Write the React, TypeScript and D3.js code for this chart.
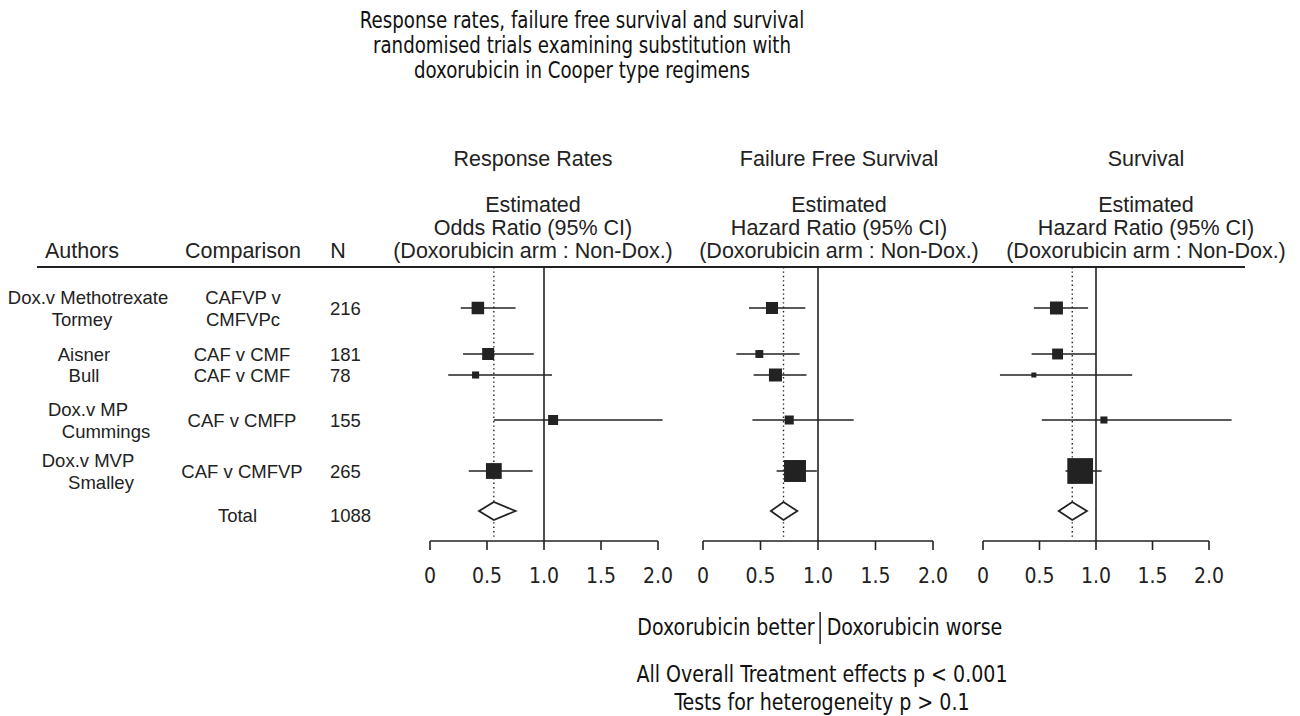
import * as d3 from "d3";
import React from "react";

// ---- data ----
const groups = ["Dox.v Methotrexate", "", "", "Dox.v MP", "Dox.v MVP"];
const authors = ["Tormey", "Aisner", "Bull", "Cummings", "Smalley"];
const comparisons = [["CAFVP v", "CMFVPc"], ["CAF v CMF"], ["CAF v CMF"], ["CAF v CMFP"], ["CAF v CMFVP"]];
const patients = [216, 181, 78, 155, 265];
const totalPatients = 1088;

const panelTitles = ["Response Rates", "Failure Free Survival", "Survival"];
const ratioLabels = ["Odds Ratio (95% CI)", "Hazard Ratio (95% CI)", "Hazard Ratio (95% CI)"];

// response rates: odds ratios
const responseEst = [0.42, 0.51, 0.40, 1.08, 0.56];
const responseLow = [0.27, 0.29, 0.16, 0.56, 0.34];
const responseHigh = [0.75, 0.91, 1.07, 2.04, 0.9];
const responseWeight = [25, 23, 8, 16, 40];

// failure free survival: hazard ratios
const ffsEst = [0.6, 0.49, 0.63, 0.75, 0.8];
const ffsLow = [0.4, 0.29, 0.44, 0.43, 0.64];
const ffsHigh = [0.89, 0.84, 0.9, 1.31, 0.99];
const ffsWeight = [23, 10, 27, 13, 77];

// survival: hazard ratios
const survEst = [0.65, 0.66, 0.45, 1.07, 0.86];
const survLow = [0.45, 0.43, 0.15, 0.52, 0.73];
const survHigh = [0.93, 1.0, 1.32, 2.2, 1.05];
const survWeight = [27, 19, 4, 8, 106];

// pooled estimates (diamonds)
const pooledEst = [0.56, 0.7, 0.79];
const pooledLow = [0.43, 0.59, 0.67];
const pooledHigh = [0.75, 0.82, 0.92];

const tickValues = [0, 0.5, 1, 1.5, 2];
const tickLabels = ["0", "0.5", "1.0", "1.5", "2.0"];

const titleLines = [
  "Response rates, failure free survival and survival",
  "randomised trials examining substitution with",
  "doxorubicin in Cooper type regimens",
];

// ---- layout ----
const W = 1300;
const H = 716;
const panelRanges: [number, number][] = [[430, 658], [703, 933], [983, 1209]];
const headerX = [533, 839, 1146];
const rowY = [308, 354, 375, 420, 471];
const totalY = 511;
const authorX = [82, 84, 84, 106, 101];
const ruleY = 267;
const axisY = 541;

const sans = "'Liberation Sans', Arial, Helvetica, sans-serif";
const narrow = "'Liberation Sans Narrow', 'Arial Narrow', 'DejaVu Sans Condensed', sans-serif";
const ink = "#222";

const panels = [
  { est: responseEst, low: responseLow, high: responseHigh, weight: responseWeight },
  { est: ffsEst, low: ffsLow, high: ffsHigh, weight: ffsWeight },
  { est: survEst, low: survLow, high: survHigh, weight: survWeight },
];

const size = d3.scaleSqrt().domain([0, 100]).range([0, 25]);

function Panel({ i }: { i: number }) {
  const p = panels[i];
  const x = d3.scaleLinear().domain([0, 2]).range(panelRanges[i]);
  const pe = x(pooledEst[i]);
  const dh = 9;
  return (
    <g>
      <line x1={x(1)} x2={x(1)} y1={ruleY} y2={axisY} stroke={ink} strokeWidth={1.6} />
      <line x1={pe} x2={pe} y1={ruleY} y2={axisY - 3} stroke={ink} strokeWidth={1.4} strokeDasharray="1.4,3" />
      {p.est.map((e, j) => {
        const s = size(p.weight[j]);
        return (
          <g key={j}>
            <line x1={x(p.low[j])} x2={x(p.high[j])} y1={rowY[j]} y2={rowY[j]} stroke={ink} strokeWidth={1.6} />
            <rect x={x(e) - s / 2} y={rowY[j] - s / 2} width={s} height={s} fill={ink} />
          </g>
        );
      })}
      <path
        d={`M${x(pooledLow[i])},${totalY}L${pe},${totalY - dh}L${x(pooledHigh[i])},${totalY}L${pe},${totalY + dh}Z`}
        fill="#fff"
        stroke={ink}
        strokeWidth={1.8}
      />
      <line x1={x(0)} x2={x(2)} y1={axisY} y2={axisY} stroke={ink} strokeWidth={1.6} />
      {tickValues.map((t, k) => (
        <g key={k}>
          <line x1={x(t)} x2={x(t)} y1={axisY} y2={axisY + 9} stroke={ink} strokeWidth={1.6} />
          <text x={x(t)} y={axisY + 42} textAnchor="middle" fontFamily={narrow} fontSize={21} fill={ink}>
            {tickLabels[k]}
          </text>
        </g>
      ))}
    </g>
  );
}

export default function App() {
  return (
    <svg
      width={W}
      height={H}
      style={{ display: "block", background: "#fff", position: "absolute", left: 0, top: 0 }}
    >
      <g fontFamily={narrow} fontSize={23} fill="#111" textAnchor="middle" transform="translate(582,0) scale(0.88,1)">
        {titleLines.map((t, k) => (
          <text key={k} x={0} y={28 + k * 25}>
            {t}
          </text>
        ))}
      </g>

      <g fontFamily={sans} fontSize={21.5} fill={ink} textAnchor="middle">
        {panelTitles.map((t, i) => (
          <g key={i}>
            <text x={headerX[i]} y={166}>{t}</text>
            <text x={headerX[i]} y={212}>Estimated</text>
            <text x={headerX[i]} y={235}>{ratioLabels[i]}</text>
            <text x={headerX[i]} y={258}>(Doxorubicin arm : Non-Dox.)</text>
          </g>
        ))}
        <text x={82} y={258}>Authors</text>
        <text x={243} y={258}>Comparison</text>
        <text x={338} y={258}>N</text>
      </g>

      <line x1={37} x2={1245} y1={ruleY} y2={ruleY} stroke={ink} strokeWidth={2} />

      <g fontFamily={sans} fontSize={18.5} fill={ink} dominantBaseline="central" textAnchor="middle">
        {authors.map((a, j) => {
          const two = groups[j] !== "";
          const comp = comparisons[j];
          return (
            <g key={j}>
              {two && <text x={88} y={rowY[j] - 11}>{groups[j]}</text>}
              <text x={authorX[j]} y={two ? rowY[j] + 11 : rowY[j]}>{a}</text>
              {comp.length === 2 ? (
                <>
                  <text x={243} y={rowY[j] - 11}>{comp[0]}</text>
                  <text x={243} y={rowY[j] + 11}>{comp[1]}</text>
                </>
              ) : (
                <text x={242} y={rowY[j]}>{comp[0]}</text>
              )}
              <text x={330} y={rowY[j]} textAnchor="start">{patients[j]}</text>
            </g>
          );
        })}
        <text x={257} y={totalY + 4} textAnchor="end">Total</text>
        <text x={330} y={totalY + 4} textAnchor="start">{totalPatients}</text>
      </g>

      {panels.map((_, i) => (
        <Panel key={i} i={i} />
      ))}

      <g fontFamily={narrow} fontSize={22.5} fill="#111" transform="translate(822,0) scale(0.94,1)">
        <text x={-8} y={635} textAnchor="end">Doxorubicin better</text>
        <line x1={-2} x2={-2} y1={612} y2={644} stroke="#111" strokeWidth={1.5} />
        <text x={5} y={635}>Doxorubicin worse</text>
        <text x={0} y={682} textAnchor="middle">All Overall Treatment effects p &lt; 0.001</text>
        <text x={0} y={710} textAnchor="middle">Tests for heterogeneity p &gt; 0.1</text>
      </g>
    </svg>
  );
}
